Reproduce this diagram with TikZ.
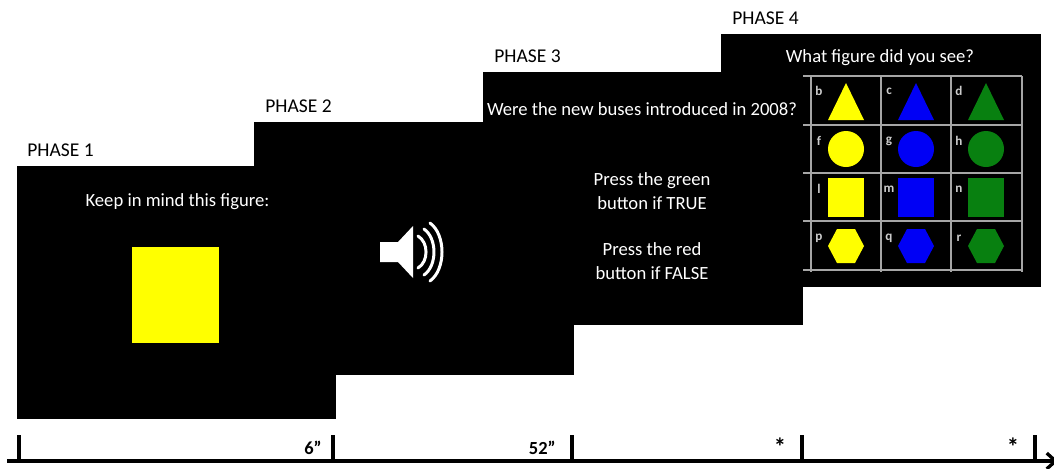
\documentclass[tikz,border=0pt]{standalone}
\usepackage{fontspec}
\setmainfont{Carlito}
\usetikzlibrary{arrows.meta,positioning}
\definecolor{shapegreen}{RGB}{8,128,16}
\definecolor{shapeblue}{RGB}{0,0,245}
\definecolor{shapeyellow}{RGB}{255,255,0}
\begin{document}
\begin{tikzpicture}[
  x=0.02cm, y=-0.02cm,
  screen/.style={fill=black, draw=none},
  phase/.style={font=\fontsize{11.1}{12}\selectfont, anchor=west, inner sep=0pt},
  msg/.style={font=\fontsize{10.6}{13.2}\selectfont, text=white, align=center, inner sep=0pt},
  letter/.style={font=\fontsize{7.5}{8}\selectfont\bfseries, text=white!80!black, inner sep=0pt},
  tick/.style={line width=2.4pt},
  dur/.style={font=\fontsize{10.5}{11}\selectfont\bfseries, anchor=east, inner sep=0pt},
  star/.style={font=\fontsize{14}{15}\selectfont\bfseries, inner sep=0pt},
  gridline/.style={draw=white!65!black, line width=0.6pt},
]
\useasboundingbox (0,0) rectangle (1054,468);
% screens, back to front
\fill[screen] (721,34) rectangle (1041,287);
\fill[screen] (483,72) rectangle (803,325);
\fill[screen] (254,122) rectangle (574,375);
\fill[screen] (17,166) rectangle (336,419);
\node[phase] (p1) at (27,150) {PHASE 1};
\node[phase] (p2) at (265,106) {PHASE 2};
\node[phase] (p3) at (494,56) {PHASE 3};
\node[phase] (p4) at (732,18) {PHASE 4};
\node[msg] (keep) at (177.5,201.5) {Keep in mind this figure:};
\fill[shapeyellow] (132,247) rectangle (219,343);
% speaker
\fill[white] (380,242) -- (398,242) -- (413,226) -- (413,278) -- (398,262) -- (380,262) -- cycle;
\foreach \a/\b/\c in {418/236/428.7,424/229/437.3,430/223/446}
  \draw[white, line width=1.7pt, line cap=round] (\a,\b) .. controls (\c,\b+0.4*252-0.4*\b) and (\c,504-\b-0.4*252+0.4*\b) .. (\a,504-\b);
\node[msg] (quest) at (642,109) {Were the new buses introduced in 2008?};
\node[msg] (green) at (652,191) {Press the green\\button if TRUE};
\node[msg] (red) at (652,261) {Press the red\\button if FALSE};
\node[msg] (what) at (880,58) {What figure did you see?};
% answer grid
\foreach \y in {76,125,173,221,270} \draw[gridline] (803,\y) -- (1022,\y);
\foreach \x in {811,881,951,1022} \draw[gridline] (\x,76) -- (\x,272);
\foreach \x/\col/\l/\m/\n/\o in {846/shapeyellow/b/f/l/p,916/shapeblue/c/g/m/q,986/shapegreen/d/h/n/r}{
  \fill[\col] (\x,83) -- (\x+18,120) -- (\x-18,120) -- cycle;
  \fill[\col] (\x,149) circle (18);
  \fill[\col] (\x-18,178) rectangle (\x+18,217);
  \fill[\col] (\x-9,229) -- (\x+9,229) -- (\x+18,246) -- (\x+9,263) -- (\x-9,263) -- (\x-18,246) -- cycle;
  \node[letter] at (\x-27,91) {\l};
  \node[letter] at (\x-27,141) {\m};
  \node[letter] at (\x-27,189) {\n};
  \node[letter] at (\x-27,238) {\o};
}
% time line
\coordinate (start) at (7,461);
\coordinate (end) at (1058,461);
\draw[line width=1.9pt, -{Straight Barb[length=5pt,width=9pt]}] (start) -- (end);
\foreach \x in {19,333,572,802,1035} \draw[tick] (\x,435) -- (\x,461);
\node[dur] (t1) at (322,448) {6”};
\node[dur] (t2) at (556,448) {52”};
\node[star] (t3) at (780,447) {*};
\node[star] (t4) at (1013,447) {*};
\end{tikzpicture}
\end{document}
